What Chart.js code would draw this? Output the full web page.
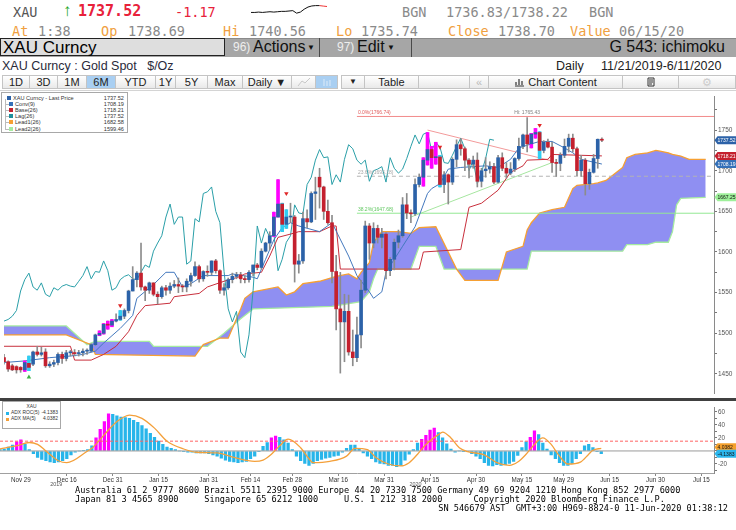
<!DOCTYPE html>
<html>
<head>
<meta charset="utf-8">
<title>XAU Curncy ichimoku</title>
<script src="https://cdn.jsdelivr.net/npm/chart.js@4.4.1/dist/chart.umd.min.js"></script>
<style>
    body { margin: 0; width: 736px; height: 530px; background: #fff; position: relative; overflow: hidden; font-family: "Liberation Sans", Arial, sans-serif; }
    .t { position: absolute; white-space: nowrap; }
    .mono { font-family: "DejaVu Sans Mono", "Liberation Mono", monospace; font-size: 13.5px; line-height: 16px; }
    .lbl { color: #f0a040; }
    .val { color: #8a8a8a; }
    .bar3 { position: absolute; top: 38px; height: 19px; line-height: 19px; }
    .btn { position: absolute; top: 75px; height: 14px; box-sizing: border-box; border: 1px solid #c4c4c4; background: linear-gradient(#ffffff, #e9e9e9); font-size: 11px; line-height: 12px; text-align: center; color: #222; }
    .btn.sel { background: #a9cff2; }
    .foot { position: absolute; white-space: pre; font-family: "DejaVu Sans Mono", "Liberation Mono", monospace; font-size: 8.6px; line-height: 9px; color: #000; }
    #legend, #subLegend { position: absolute; background: #fff; border: 1px solid #a8a8a8; box-sizing: border-box; }
    .lrow { position: absolute; left: 0; right: 0; height: 6px; font-size: 5.6px; line-height: 6px; color: #333; }
    .sq { position: absolute; top: 1px; width: 4px; height: 4px; }
    .ln { position: absolute; }
    .lv { position: absolute; right: 3px; }
    #subLegend .lrow { font-size: 4.9px; }
    #subLegend .sq { width: 3px; height: 3px; top: 1.5px; }
</style>
</head>
<body>

<!-- quote header -->
<div class="t mono" style="left:13px;top:4px;color:#555">XAU</div>
<div class="t" style="left:63px;top:1px;font-size:17px;color:#22a522">&#8593;</div>
<div class="t mono" style="left:78px;top:3px;font-size:15px;font-weight:bold;color:#e8213a">1737.52</div>
<div class="t mono" style="left:175px;top:4px;color:#e8213a">-1.17</div>
<canvas id="spark" width="80" height="22" style="position:absolute;left:249px;top:0"></canvas>
<div class="t mono val" style="left:402px;top:4px">BGN</div>
<div class="t mono val" style="left:446px;top:4px">1736.83/1738.22</div>
<div class="t mono val" style="left:589px;top:4px">BGN</div>

<div class="t mono lbl" style="left:12px;top:23px">At</div>
<div class="t mono val" style="left:38px;top:23px">1:38</div>
<div class="t mono lbl" style="left:101px;top:23px">Op</div>
<div class="t mono val" style="left:128px;top:23px">1738.69</div>
<div class="t mono lbl" style="left:223px;top:23px">Hi</div>
<div class="t mono val" style="left:249px;top:23px">1740.56</div>
<div class="t mono lbl" style="left:336px;top:23px">Lo</div>
<div class="t mono val" style="left:361px;top:23px">1735.74</div>
<div class="t mono lbl" style="left:448px;top:23px">Close</div>
<div class="t mono val" style="left:498px;top:23px">1738.70</div>
<div class="t mono lbl" style="left:570px;top:23px">Value</div>
<div class="t mono val" style="left:619px;top:23px">06/15/20</div>

<!-- command bar -->
<div class="bar3" style="left:0;width:736px;background:#a6a6a6;border-top:1px solid #8a8a8a;box-sizing:border-box"></div>
<div class="bar3" style="left:0;width:225px;height:18px;background:#dedede;border:1px solid #222;box-sizing:border-box"></div>
<div class="t" style="left:3px;top:38px;font-size:17px;line-height:19px;color:#000">XAU Curncy</div>
<div class="t" style="left:233px;top:38px;font-size:12px;line-height:19px;color:#eeeeee">96)</div>
<div class="t" style="left:253px;top:37px;font-size:16px;line-height:19px;color:#111">Actions</div>
<div class="t" style="left:307px;top:38px;font-size:8px;line-height:19px;color:#111">&#9660;</div>
<div class="bar3" style="left:319px;width:1px;background:#4a4a4a"></div>
<div class="t" style="left:337px;top:38px;font-size:12px;line-height:19px;color:#eeeeee">97)</div>
<div class="t" style="left:357px;top:37px;font-size:16px;line-height:19px;color:#111">Edit</div>
<div class="t" style="left:387px;top:38px;font-size:8px;line-height:19px;color:#111">&#9660;</div>
<div class="bar3" style="left:411px;width:1px;background:#4a4a4a"></div>
<div class="t" style="right:11px;top:37px;font-size:16px;line-height:19px;color:#111">G 543: ichimoku</div>

<div class="t" style="left:2px;top:59px;font-size:12.5px;line-height:14px;color:#2a2a3a;white-space:pre">XAU Curncy : Gold Spot   $/Oz</div>
<div class="t" style="left:556px;top:59px;font-size:12.5px;line-height:14px;color:#222">Daily</div>
<div class="t" style="left:601px;top:59px;font-size:12.5px;line-height:14px;color:#222">11/21/2019-6/11/2020</div>

<!-- toolbar -->
<div class="btn" style="left:2px;width:28px">1D</div>
<div class="btn" style="left:29px;width:29px">3D</div>
<div class="btn" style="left:57px;width:30px">1M</div>
<div class="btn sel" style="left:86px;width:30px">6M</div>
<div class="btn" style="left:115px;width:41px">YTD</div>
<div class="btn" style="left:155px;width:21px">1Y</div>
<div class="btn" style="left:175px;width:33px">5Y</div>
<div class="btn" style="left:207px;width:36px">Max</div>
<div class="btn" style="left:242px;width:50px">Daily &#9660;</div>
<div class="btn" style="left:291px;width:25px"><svg width="14" height="10" style="margin-top:1px"><polyline points="1,9 5,4 8,6 13,1" fill="none" stroke="#c8c8c8" stroke-width="1"/></svg></div>
<div class="btn sel" style="left:315px;width:23px"><svg width="10" height="10" style="margin-top:1px"><path d="M2 2v7M5 4v5M8 3v6" stroke="#dceaf8" stroke-width="1"/></svg></div>
<div class="btn" style="left:341px;width:24px;font-size:8px">&#9660;</div>
<div class="btn" style="left:364px;width:55px">Table</div>
<div class="btn" style="left:418px;width:52px"></div>
<div class="btn" style="left:469px;width:20px;color:#bbb">&#171;</div>
<div class="btn" style="left:488px;width:135px"><svg width="11" height="10" style="vertical-align:-1px"><path d="M1 9h9M2 8V5M5 8V2M8 8V4" stroke="#333" stroke-width="1.2" fill="none"/></svg> Chart Content</div>
<div class="btn" style="left:622px;width:57px"><svg width="10" height="10" style="margin-top:1px"><path d="M2 1h6v8H2zM3 3h4M3 5h4M3 7h3" stroke="#333" stroke-width="1" fill="none"/></svg></div>
<div class="btn" style="left:678px;width:58px;color:#ccc">&#9881;</div>

<div style="position:absolute;left:0;top:90px;width:736px;height:1px;background:#d4d4d4"></div>

<!-- main panel -->
<canvas id="main" width="736" height="306" style="position:absolute;left:0;top:92px"></canvas>
<div id="legend" style="left:1px;top:92px;width:127px;height:41px"></div>

<div style="position:absolute;left:0;top:398px;width:736px;height:3px;background:#404040"></div>

<!-- indicator panel -->
<canvas id="sub" width="736" height="87" style="position:absolute;left:0;top:403px"></canvas>
<div id="subLegend" style="left:2px;top:401px;width:59px;height:28px"></div>

<div class="foot" style="left:75px;top:486px">Australia 61 2 9777 8600 Brazil 5511 2395 9000 Europe 44 20 7330 7500 Germany 49 69 9204 1210 Hong Kong 852 2977 6000</div>
<div class="foot" style="left:75px;top:495px">Japan 81 3 4565 8900     Singapore 65 6212 1000     U.S. 1 212 318 2000      Copyright 2020 Bloomberg Finance L.P.</div>
<div class="foot" style="right:8px;top:504px">SN 546679 AST  GMT+3:00 H969-8824-0 11-Jun-2020 01:38:12</div>

<script>
// trading days on the axis, Nov 22 2019 .. Jul 20 2020 (cloud runs 26 days ahead)
const monthDays = [
    ['Nov', [22, 25, 26, 27, 28, 29]],
    ['Dec', [2, 3, 4, 5, 6, 9, 10, 11, 12, 13, 16, 17, 18, 19, 20, 23, 24, 25, 26, 27, 30, 31]],
    ['Jan', [1, 2, 3, 6, 7, 8, 9, 10, 13, 14, 15, 16, 17, 20, 21, 22, 23, 24, 27, 28, 29, 30, 31]],
    ['Feb', [3, 4, 5, 6, 7, 10, 11, 12, 13, 14, 17, 18, 19, 20, 21, 24, 25, 26, 27, 28]],
    ['Mar', [2, 3, 4, 5, 6, 9, 10, 11, 12, 13, 16, 17, 18, 19, 20, 23, 24, 25, 26, 27, 30, 31]],
    ['Apr', [1, 2, 3, 6, 7, 8, 9, 10, 13, 14, 15, 16, 17, 20, 21, 22, 23, 24, 27, 28, 29, 30]],
    ['May', [1, 4, 5, 6, 7, 8, 11, 12, 13, 14, 15, 18, 19, 20, 21, 22, 25, 26, 27, 28, 29]],
    ['Jun', [1, 2, 3, 4, 5, 8, 9, 10, 11, 12, 15, 16, 17, 18, 19, 22, 23, 24, 25, 26, 29, 30]],
    ['Jul', [1, 2, 3, 6, 7, 8, 9, 10, 13, 14, 15, 16, 17, 20]]
];
const tickDates = ['Nov 29', 'Dec 16', 'Dec 31', 'Jan 15', 'Jan 31', 'Feb 14', 'Feb 28', 'Mar 16', 'Mar 31',
    'Apr 15', 'Apr 30', 'May 15', 'May 29', 'Jun 15', 'Jun 30', 'Jul 15'];

// daily candles, Nov 22 .. Jun 11
const opens = [
    1470, 1465, 1460, 1459, 1458, 1455, 1463, 1462, 1477, 1474,
    1477, 1460, 1462, 1464, 1474, 1469, 1476, 1476, 1475, 1476,
    1478, 1478, 1486, 1498, 1500, 1511, 1510, 1515, 1517, 1521,
    1528, 1552, 1566, 1574, 1557, 1553, 1562, 1548, 1545, 1556,
    1553, 1558, 1560, 1558, 1557, 1564, 1571, 1582, 1567, 1576,
    1575, 1589, 1577, 1553, 1556, 1566, 1570, 1572, 1567, 1566,
    1575, 1584, 1581, 1601, 1611, 1620, 1643, 1659, 1634, 1643,
    1643, 1585, 1589, 1641, 1637, 1672, 1692, 1680, 1650, 1636,
    1576, 1530, 1514, 1527, 1477, 1470, 1498, 1553, 1632, 1611,
    1629, 1618, 1622, 1577, 1591, 1612, 1620, 1658, 1648, 1647,
    1683, 1692, 1713, 1726, 1716, 1717, 1683, 1695, 1686, 1714,
    1732, 1727, 1713, 1708, 1713, 1687, 1700, 1702, 1705, 1686,
    1716, 1703, 1697, 1702, 1715, 1730, 1744, 1733, 1745, 1747,
    1725, 1735, 1729, 1710, 1709, 1719, 1730, 1740, 1727, 1700,
    1713, 1684, 1698, 1715, 1738.69
];
const highs = [
    1474, 1466, 1462, 1460, 1459, 1466, 1472, 1478, 1484, 1483,
    1481, 1465, 1467, 1476, 1477, 1479, 1479, 1480, 1479, 1481,
    1481, 1487, 1499, 1503, 1512, 1515, 1517, 1524, 1528, 1530,
    1553, 1582, 1576, 1611, 1558, 1563, 1562, 1551, 1558, 1559,
    1562, 1565, 1568, 1560, 1567, 1574, 1588, 1584, 1577, 1583,
    1589, 1591, 1578, 1561, 1568, 1574, 1575, 1575, 1571, 1577,
    1584, 1586, 1604, 1612, 1625, 1649, 1689, 1660, 1652, 1660,
    1645, 1597, 1649, 1652, 1674, 1692, 1703, 1681, 1664, 1645,
    1596, 1575, 1548, 1547, 1504, 1520, 1565, 1638, 1635, 1636,
    1633, 1629, 1624, 1593, 1616, 1627, 1667, 1672, 1652, 1690,
    1696, 1716, 1747, 1730, 1735, 1719, 1699, 1696, 1716, 1738,
    1739, 1729, 1715, 1718, 1722, 1703, 1716, 1711, 1709, 1719,
    1722, 1710, 1710, 1716, 1740, 1745, 1765.43, 1746, 1752, 1748,
    1737, 1739, 1735, 1714, 1722, 1739, 1745, 1745, 1729, 1719,
    1715, 1702, 1720, 1739, 1740.56
];
const lows = [
    1462, 1453, 1454, 1451, 1452, 1453, 1454, 1460, 1472, 1472,
    1458, 1458, 1459, 1461, 1463, 1466, 1472, 1472, 1472, 1472,
    1474, 1477, 1485, 1497, 1499, 1505, 1508, 1514, 1516, 1518,
    1525, 1552, 1557, 1553, 1540, 1549, 1546, 1536, 1543, 1547,
    1549, 1556, 1550, 1551, 1551, 1558, 1570, 1563, 1564, 1570,
    1572, 1574, 1549, 1547, 1554, 1562, 1567, 1562, 1562, 1563,
    1571, 1578, 1579, 1600, 1603, 1619, 1643, 1625, 1629, 1636,
    1563, 1574, 1586, 1630, 1636, 1640, 1654, 1640, 1634, 1562,
    1504, 1451, 1465, 1473, 1460, 1465, 1482, 1550, 1591, 1605,
    1611, 1605, 1567, 1571, 1578, 1605, 1618, 1641, 1636, 1645,
    1680, 1681, 1707, 1703, 1708, 1680, 1673, 1659, 1683, 1705,
    1719, 1700, 1691, 1703, 1680, 1680, 1692, 1697, 1684, 1685,
    1700, 1691, 1695, 1699, 1713, 1727, 1723, 1728, 1740, 1715,
    1722, 1728, 1698, 1693, 1700, 1716, 1723, 1723, 1694, 1693,
    1670, 1677, 1697, 1703, 1735.74
];
const closes = [
    1465, 1456, 1455, 1455, 1455, 1464, 1458, 1477, 1474, 1476,
    1460, 1462, 1464, 1474, 1469, 1476, 1476, 1475, 1476, 1478,
    1478, 1486, 1498, 1500, 1511, 1510, 1515, 1517, 1521, 1528,
    1552, 1566, 1574, 1557, 1553, 1562, 1548, 1545, 1556, 1553,
    1558, 1560, 1558, 1557, 1564, 1571, 1582, 1567, 1576, 1575,
    1589, 1577, 1553, 1556, 1566, 1570, 1572, 1567, 1566, 1575,
    1584, 1581, 1601, 1611, 1620, 1643, 1659, 1634, 1643, 1643,
    1585, 1589, 1641, 1637, 1672, 1674, 1680, 1650, 1636, 1576,
    1530, 1514, 1527, 1477, 1470, 1498, 1553, 1632, 1611, 1629,
    1618, 1622, 1577, 1591, 1612, 1620, 1658, 1648, 1647, 1683,
    1692, 1713, 1726, 1716, 1717, 1683, 1695, 1686, 1714, 1732,
    1727, 1713, 1708, 1713, 1687, 1700, 1702, 1705, 1686, 1716,
    1703, 1697, 1702, 1715, 1730, 1744, 1733, 1745, 1747, 1725,
    1735, 1729, 1710, 1709, 1719, 1730, 1740, 1727, 1700, 1713,
    1684, 1698, 1715, 1738.7, 1737.52
];
const hotDays = ['Nov 29', 'Dec 25', 'Dec 26', 'Dec 27', 'Dec 30', 'Feb 21', 'Feb 24',
    'Apr 13', 'Apr 14', 'Apr 15', 'Apr 16', 'May 19', 'May 20'];
const coolDays = ['Dec 2', 'Jan 1', 'Feb 25', 'Feb 26', 'Apr 17', 'May 21'];
const sellMarks = [['Jan 1', 1534], ['Feb 26', 1672], ['Apr 17', 1729], ['May 21', 1756]];
const buyMarks = [['Dec 2', 1446]];

// ichimoku lines
const convLine = [['Nov 22', 1464], ['Nov 29', 1466], ['Dec 9', 1470], ['Dec 16', 1472], ['Dec 19', 1474],
    ['Dec 24', 1478], ['Dec 26', 1488], ['Dec 30', 1497], ['Jan 1', 1506], ['Jan 6', 1522], ['Jan 7', 1543],
    ['Jan 13', 1560], ['Jan 16', 1575], ['Jan 20', 1575], ['Jan 22', 1557], ['Jan 24', 1561], ['Jan 29', 1571],
    ['Feb 6', 1571], ['Feb 7', 1573], ['Feb 14', 1569], ['Feb 17', 1567], ['Feb 19', 1591], ['Feb 21', 1615],
    ['Feb 25', 1630], ['Feb 27', 1636], ['Mar 2', 1632], ['Mar 9', 1625], ['Mar 12', 1636], ['Mar 18', 1595],
    ['Mar 20', 1571], ['Mar 25', 1551], ['Mar 26', 1543], ['Mar 30', 1551], ['Mar 31', 1575], ['Apr 1', 1583],
    ['Apr 6', 1607], ['Apr 9', 1631], ['Apr 14', 1672], ['Apr 15', 1678], ['Apr 17', 1684], ['Apr 21', 1702],
    ['Apr 24', 1704], ['May 4', 1706], ['May 7', 1704], ['May 12', 1714], ['May 14', 1728], ['May 19', 1733],
    ['May 21', 1736], ['May 26', 1736], ['May 29', 1728], ['Jun 2', 1722], ['Jun 4', 1714], ['Jun 11', 1708.19]];
const baseLine = [['Nov 22', 1484], ['Dec 16', 1484], ['Dec 17', 1467], ['Dec 23', 1467], ['Dec 26', 1474],
    ['Dec 31', 1484], ['Jan 3', 1502], ['Jan 7', 1522], ['Jan 9', 1534], ['Jan 17', 1537], ['Jan 20', 1545],
    ['Jan 28', 1549], ['Jan 30', 1557], ['Feb 5', 1564], ['Feb 11', 1570], ['Feb 12', 1573], ['Feb 18', 1575],
    ['Feb 20', 1595], ['Feb 24', 1618], ['Feb 27', 1622], ['Mar 2', 1625], ['Mar 9', 1625], ['Mar 12', 1632],
    ['Mar 13', 1632], ['Mar 16', 1579], ['Apr 10', 1579], ['Apr 13', 1600], ['Apr 24', 1603], ['Apr 28', 1655],
    ['May 1', 1660], ['May 7', 1676], ['May 12', 1698], ['May 15', 1706], ['May 18', 1713], ['May 25', 1714],
    ['May 26', 1720], ['Jun 11', 1718.21]];
const lead1Line = [['Nov 22', 1498], ['Dec 13', 1498], ['Dec 23', 1486], ['Dec 24', 1474], ['Jan 27', 1472],
    ['Jan 29', 1486], ['Feb 4', 1494], ['Feb 6', 1494], ['Feb 11', 1530], ['Feb 12', 1543], ['Feb 14', 1551],
    ['Feb 24', 1557], ['Feb 26', 1547], ['Feb 28', 1551], ['Mar 3', 1561], ['Mar 9', 1564], ['Mar 13', 1570],
    ['Mar 18', 1573], ['Mar 20', 1567], ['Mar 23', 1575], ['Mar 25', 1587], ['Mar 26', 1612], ['Mar 30', 1625],
    ['Apr 3', 1625], ['Apr 8', 1623], ['Apr 10', 1630], ['Apr 16', 1631], ['Apr 23', 1579], ['Apr 27', 1565],
    ['May 7', 1565], ['May 11', 1600], ['May 15', 1607], ['May 18', 1627], ['May 19', 1636], ['May 21', 1648],
    ['May 26', 1652], ['May 29', 1655], ['Jun 2', 1678], ['Jun 3', 1682], ['Jun 9', 1684], ['Jun 10', 1685],
    ['Jun 12', 1688], ['Jun 16', 1696], ['Jun 18', 1704], ['Jun 19', 1716], ['Jun 23', 1720], ['Jun 26', 1722],
    ['Jun 30', 1725], ['Jul 1', 1724], ['Jul 3', 1722], ['Jul 6', 1720], ['Jul 8', 1718], ['Jul 10', 1714],
    ['Jul 16', 1714]];
const lead2Line = [['Nov 22', 1509], ['Dec 13', 1509], ['Dec 20', 1486], ['Dec 24', 1490], ['Jan 10', 1490],
    ['Jan 13', 1484], ['Jan 30', 1484], ['Feb 5', 1500], ['Feb 11', 1518], ['Feb 14', 1530], ['Mar 12', 1533],
    ['Mar 23', 1539], ['Mar 25', 1551], ['Mar 26', 1567], ['Mar 27', 1579], ['Apr 8', 1579], ['Apr 10', 1607],
    ['Apr 16', 1607], ['Apr 20', 1579], ['May 18', 1579], ['May 19', 1601], ['Jun 18', 1601], ['Jun 19', 1609],
    ['Jun 26', 1609], ['Jun 30', 1612], ['Jul 3', 1612], ['Jul 6', 1625], ['Jul 7', 1658], ['Jul 8', 1666],
    ['Jul 16', 1667.25]];
const lagShift = 26;

// drawn studies: fibonacci levels and the triangle
const fibNames = ['0.0%', '23.6%', '38.2%'];
const fibValues = [1766.74, 1693.18, 1647.68];
const fibStart = 'Mar 20';
const upperTrend = [['Apr 14', 1750], ['May 26', 1712]];
const lowerTrend = [['Apr 8', 1643], ['May 26', 1710]];

const legendNames = ['XAU Curncy - Last Price', 'Conv(9)', 'Base(26)', 'Lag(26)', 'Lead1(26)', 'Lead2(26)'];
const legendValues = ['1737.52', '1708.19', '1718.21', '1737.52', '1682.58', '1599.46'];
const mainTags = [1737.52, 1718.21, 1708.19, 1667.25];

// ADX ROC(5) histogram and its 5 day average
const adxRoc = [
    2, 3, 6, 9, 14, 17, 10, 2, -4, -10,
    -13, -15, -17, -18, -17, -15, -12, -6, -2, 0,
    1, 2, 8, 20, 33, 45, 57, 56, 54, 52,
    51, 50, 47, 44, 39, 34, 27, 21, 15, 10,
    6, 4, 2, 0, -1, -2, -2, -3, -3, -3,
    -4, -6, -8, -11, -14, -16, -17, -18, -17, -16,
    -12, -8, -1, 7, 13, 20, 23, 21, 17, 12,
    2, -8, -15, -19, -22, -19, -15, -13, -11, -10,
    -8, -7, -2, 4, 9, 9, 3, -3, -8, -12,
    -17, -19, -20, -22, -22, -24, -22, -14, -5, 2,
    12, 18, 24, 32, 35, 28, 20, 11, 3, -2,
    0, -1, -1, -4, -8, -12, -18, -22, -23, -21,
    -22, -21, -19, -16, -7, 5, 14, 21, 31, 25,
    12, 3, -6, -12, -18, -22, -22, -19, -12, -4,
    8, 10, 5, -1, -4.1383
];
const adxHot = ['Nov 28', 'Nov 29', 'Dec 25', 'Dec 26', 'Dec 27', 'Dec 30', 'Feb 21', 'Feb 24',
    'Apr 13', 'Apr 14', 'Apr 15', 'Apr 16', 'May 19', 'May 20'];
const adxMa = [['Nov 22', 3], ['Nov 28', 8], ['Dec 3', 13], ['Dec 5', 10], ['Dec 9', 0], ['Dec 12', -15],
    ['Dec 16', -18], ['Dec 23', 0], ['Dec 24', 4], ['Dec 27', 25], ['Jan 1', 45], ['Jan 6', 55], ['Jan 9', 50],
    ['Jan 14', 35], ['Jan 17', 15], ['Jan 23', 3], ['Jan 28', -2], ['Feb 4', -3], ['Feb 10', -10], ['Feb 17', -16],
    ['Feb 19', -14], ['Feb 21', -5], ['Feb 25', 8], ['Feb 27', 18], ['Mar 3', 5], ['Mar 5', -12], ['Mar 6', -18],
    ['Mar 12', -16], ['Mar 18', -8], ['Mar 20', 4], ['Mar 25', 2], ['Mar 27', -10], ['Apr 1', -20], ['Apr 6', -23],
    ['Apr 8', -18], ['Apr 10', -5], ['Apr 14', 10], ['Apr 17', 25], ['Apr 20', 29], ['Apr 22', 20], ['Apr 24', 5],
    ['Apr 28', -1], ['May 4', -6], ['May 7', -18], ['May 12', -22], ['May 14', -17], ['May 18', -5], ['May 20', 10],
    ['May 22', 20], ['May 26', 10], ['May 28', -8], ['Jun 1', -20], ['Jun 4', -17], ['Jun 8', -5], ['Jun 9', 1],
    ['Jun 11', 4.0382]];
const adxLevel = 15;
const subLegendNames = ['ADX ROC(5)', 'ADX MA(5)'];
const subLegendValues = ['-4.1383', '4.0382'];

// intraday sparkline in the header
const sparkPrices = [1721, 1721, 1722, 1721, 1722, 1723, 1722, 1723, 1724, 1724, 1725, 1726,
    1719, 1722, 1730, 1736, 1739, 1740, 1740, 1738.7, 1737.5];

const dates = [];
monthDays.forEach(([m, days]) => days.forEach(d => dates.push(m + ' ' + d)));
const firstDate = dates[0];
const lastDate = dates[dates.length - 1];

const UP = '#2c62a8', DOWN = '#c4202e', MAGENTA = '#ff00ff', CYAN = '#2fcdf2';
const pts = arr => arr.map(([x, y]) => ({ x, y }));

Chart.defaults.font.family = '"Liberation Sans", Arial, sans-serif';
Chart.defaults.animation = false;
Chart.defaults.plugins.legend.display = false;
Chart.defaults.plugins.tooltip.enabled = false;

function lineSet(data, color, order, extra) {
    return Object.assign({
        type: 'line', data: pts(data), borderColor: color, borderWidth: 1,
        pointRadius: 0, fill: false, tension: 0, order: order
    }, extra || {});
}

function drawTag(ctx, x, y, text, bg, fg) {
    ctx.fillStyle = bg;
    ctx.beginPath();
    ctx.moveTo(x, y);
    ctx.lineTo(x + 3, y - 4);
    ctx.lineTo(x + 22, y - 4);
    ctx.lineTo(x + 22, y + 4);
    ctx.lineTo(x + 3, y + 4);
    ctx.closePath();
    ctx.fill();
    ctx.fillStyle = fg;
    ctx.font = '5px "Liberation Sans", Arial';
    ctx.textAlign = 'left';
    ctx.textBaseline = 'middle';
    ctx.fillText(text, x + 3, y + 0.5);
}

const mainDecor = {
    id: 'mainDecor',
    afterDatasetsDraw(chart) {
        const { ctx, scales: { x, y } } = chart;
        const fibColors = ['#e05a5a', '#a8a8a8', '#62c862'];
        ctx.save();
        ctx.font = '5px "Liberation Sans", Arial';
        ctx.textBaseline = 'bottom';
        ctx.textAlign = 'left';
        const fx = x.getPixelForValue(dates.indexOf(fibStart));
        fibValues.forEach((v, i) => {
            ctx.fillStyle = fibColors[i];
            ctx.fillText(`${fibNames[i]}(${v.toFixed(2)})`, fx + 1, y.getPixelForValue(v) - 1);
        });
        // label of the period high
        let hi = 0;
        highs.forEach((h, i) => { if (h > highs[hi]) hi = i; });
        ctx.fillStyle = '#808080';
        ctx.textAlign = 'center';
        ctx.fillText(`Hi: ${highs[hi].toFixed(2)}`, x.getPixelForValue(hi), y.getPixelForValue(highs[hi]) - 2);
        ctx.restore();
    },
    afterDraw(chart) {
        const { ctx, chartArea, scales: { y } } = chart;
        const tagStyle = [[UP, '#fff'], [DOWN, '#fff'], ['#3470b8', '#fff'], ['#9ef09a', '#111']];
        ctx.save();
        mainTags.forEach((v, i) => drawTag(ctx, chartArea.right + 0.5, y.getPixelForValue(v), v.toFixed(2), tagStyle[i][0], tagStyle[i][1]));
        ctx.restore();
    }
};

const lagPoints = closes.slice(lagShift).map((c, i) => [dates[i], c]);
const fibSets = fibValues.map((v, i) => lineSet([[fibStart, v], [lastDate, v]],
    ['#f28a8a', '#b4b4b4', '#94e894'][i], 7, i === 1 ? { borderDash: [4, 3] } : {}));

new Chart(document.getElementById('main'), {
    type: 'bar',
    data: {
        labels: dates,
        datasets: [
            lineSet(sellMarks, '#e02828', 0, { showLine: false, pointStyle: 'triangle', rotation: 180, pointRadius: 2.6, backgroundColor: '#e02828', borderWidth: 0 }),
            lineSet(buyMarks, '#3cb043', 0, { showLine: false, pointStyle: 'triangle', pointRadius: 2.6, backgroundColor: '#3cb043', borderWidth: 0 }),
            {
                label: 'body', data: opens.map((o, i) => [o, closes[i]]), order: 1,
                backgroundColor: ctx => closes[ctx.dataIndex] >= opens[ctx.dataIndex] ? UP : DOWN,
                barThickness: 3, grouped: false, minBarLength: 1
            },
            {
                label: 'signal', order: 2, barThickness: 3, grouped: false,
                data: opens.map((o, i) => (hotDays.includes(dates[i]) || coolDays.includes(dates[i])) ? [lows[i], highs[i]] : null),
                backgroundColor: ctx => hotDays.includes(dates[ctx.dataIndex]) ? MAGENTA : CYAN
            },
            {
                label: 'wick', data: lows.map((l, i) => [l, highs[i]]), order: 3,
                backgroundColor: '#8c8c8c', barThickness: 1, grouped: false
            },
            lineSet(convLine, '#4479be', 4),
            lineSet(baseLine, '#c82f3c', 5),
            lineSet(lagPoints, '#2a9fa8', 6),
            ...fibSets,
            lineSet(upperTrend, '#f39a9a', 7),
            lineSet(lowerTrend, '#a6e6a0', 7),
            lineSet(lead1Line, '#f6a033', 8, { borderWidth: 1.3 }),
            lineSet(lead2Line, '#a6eba0', 9, { borderWidth: 1.3, fill: '-1', backgroundColor: '#8f8ff2' })
        ]
    },
    options: {
        responsive: false,
        layout: { padding: { top: 3, bottom: 2, left: 0, right: 0 } },
        scales: {
            x: { display: false, offset: false, grid: { display: false } },
            y: {
                position: 'right', min: 1426.4, max: 1790.8,
                afterFit(s) { s.width = 22; },
                afterBuildTicks(s) { s.ticks = [1450, 1475, 1500, 1525, 1550, 1575, 1600, 1625, 1650, 1675, 1700, 1725, 1750, 1775].map(v => ({ value: v })); },
                ticks: { font: { size: 6.5 }, color: '#555', padding: 1, autoSkip: false, callback: v => v % 50 === 0 ? v : '' },
                grid: { drawOnChartArea: false, tickLength: 3, color: '#777' },
                border: { color: '#8a8a8a' }
            }
        }
    },
    plugins: [mainDecor]
});

const subDecor = {
    id: 'subDecor',
    afterDraw(chart) {
        const { ctx, chartArea, scales: { x, y } } = chart;
        ctx.save();
        ctx.font = '5.4px "Liberation Sans", Arial';
        ctx.fillStyle = '#555';
        ctx.textAlign = 'center';
        ctx.textBaseline = 'middle';
        const yearEdge = x.getPixelForValue(dates.indexOf('Dec 31'));
        ctx.fillText('2019', (chartArea.left + yearEdge) / 2, chartArea.bottom + 11.5);
        ctx.fillText('2020', (x.getPixelForValue(dates.indexOf('Jan 1')) + chartArea.right) / 2, chartArea.bottom + 11.5);
        drawTag(ctx, chartArea.right + 0.5, y.getPixelForValue(adxMa[adxMa.length - 1][1]) - 1, subLegendValues[1], '#f5a02c', '#111');
        drawTag(ctx, chartArea.right + 0.5, y.getPixelForValue(adxRoc[adxRoc.length - 1]), subLegendValues[0], '#2cb7ee', '#111');
        ctx.restore();
    }
};

new Chart(document.getElementById('sub'), {
    type: 'bar',
    data: {
        labels: dates,
        datasets: [
            lineSet(adxMa, '#f4a03a', 0, { borderWidth: 1.3, tension: 0.35, cubicInterpolationMode: 'monotone' }),
            lineSet([[firstDate, adxLevel], [lastDate, adxLevel]], '#ff6464', 1, { borderDash: [3, 2] }),
            lineSet([[firstDate, 0], [lastDate, 0]], '#9a9a9a', 2),
            {
                label: 'roc', data: adxRoc, order: 3, barThickness: 2.6, grouped: false,
                backgroundColor: ctx => adxHot.includes(dates[ctx.dataIndex]) ? MAGENTA : '#27b5ea'
            }
        ]
    },
    options: {
        responsive: false,
        layout: { padding: { top: 1, bottom: 0, left: 0, right: 0 } },
        scales: {
            x: {
                offset: false,
                afterBuildTicks(s) { s.ticks = s.ticks.filter(t => tickDates.includes(dates[t.value])); },
                afterFit(s) { s.height = 17; },
                ticks: { autoSkip: false, maxRotation: 0, font: { size: 6.3 }, color: '#333', padding: 0,
                    callback(v) { return this.getLabelForValue(v); } },
                grid: { drawOnChartArea: false, offset: false, tickLength: 3, color: '#888' },
                border: { color: '#a0a0a0' }
            },
            y: {
                position: 'right', min: -33.8, max: 66.2,
                afterFit(s) { s.width = 22; },
                afterBuildTicks(s) { s.ticks = [-30, -20, -10, 0, 10, 20, 30, 40, 50, 60].map(v => ({ value: v })); },
                ticks: { font: { size: 6.3 }, color: '#555', padding: 1, autoSkip: false,
                    callback: v => (v % 20 === 0 && v !== 0) ? v : '' },
                grid: { drawOnChartArea: false, tickLength: 3, color: '#777' },
                border: { color: '#8a8a8a' }
            }
        }
    },
    plugins: [subDecor]
});

new Chart(document.getElementById('spark'), {
    type: 'line',
    data: {
        labels: sparkPrices.map((p, i) => i),
        datasets: [
            { data: sparkPrices.map((p, i) => i < sparkPrices.length - 2 ? p : null), borderColor: '#111', borderWidth: 1, pointRadius: 0 },
            { data: sparkPrices.map((p, i) => i >= sparkPrices.length - 3 ? p : null), borderColor: '#e33', borderWidth: 1, pointRadius: 0 }
        ]
    },
    options: {
        responsive: false,
        layout: { padding: 2 },
        scales: { x: { display: false }, y: { display: false } }
    }
});

// legends
const legendColors = [UP, '#3470b8', DOWN, '#1f8f9c', '#f6a033', '#a6eba0'];
const legend = document.getElementById('legend');
legendNames.forEach((name, i) => {
    const row = document.createElement('div');
    row.className = 'lrow';
    row.style.top = (1.5 + i * 6.2) + 'px';
    const left = i === 0 ? 5 : 7;
    row.innerHTML = `<span class="sq" style="left:${left}px;background:${legendColors[i]}"></span>` +
        `<span class="ln" style="left:${left + 6}px">${name}</span><span class="lv">${legendValues[i]}</span>`;
    legend.appendChild(row);
    if (i > 0) {
        const stub = document.createElement('div');
        stub.style.cssText = `position:absolute;left:3px;top:${4.5 + i * 6.2}px;width:4px;height:1px;background:#bbb`;
        legend.appendChild(stub);
    }
});
const trunk = document.createElement('div');
trunk.style.cssText = 'position:absolute;left:3px;top:6px;width:1px;height:31px;background:#bbb';
legend.appendChild(trunk);

const subLegend = document.getElementById('subLegend');
const title = document.createElement('div');
title.className = 'lrow';
title.style.cssText = 'top:2px;text-align:center';
title.textContent = 'XAU';
subLegend.appendChild(title);
subLegendNames.forEach((name, i) => {
    const row = document.createElement('div');
    row.className = 'lrow';
    row.style.top = (8 + i * 6) + 'px';
    row.innerHTML = `<span class="sq" style="left:3px;background:${['#27b5ea', '#f4a03a'][i]}"></span>` +
        `<span class="ln" style="left:8px">${name}</span><span class="lv" style="right:2px">${subLegendValues[i]}</span>`;
    subLegend.appendChild(row);
});
</script>
</body>
</html>
